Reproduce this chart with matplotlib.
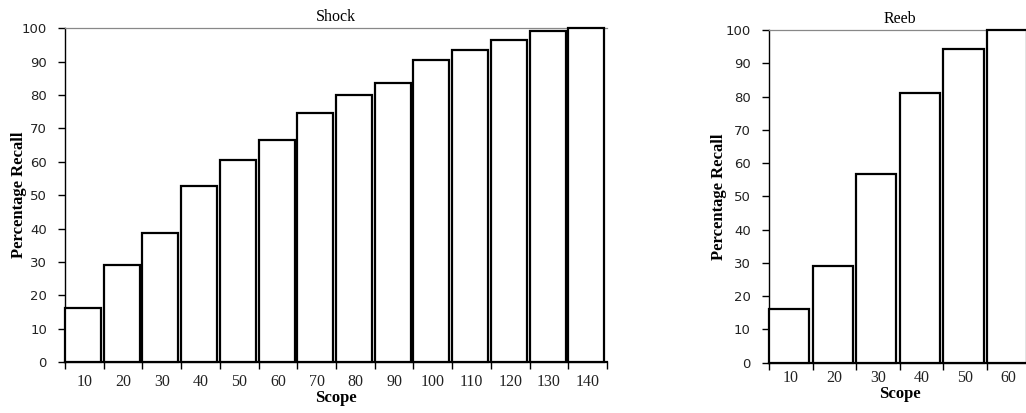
import matplotlib
matplotlib.use("Agg")
import matplotlib.pyplot as plt
import numpy as np

# data
shock_scope = [10, 20, 30, 40, 50, 60, 70, 80, 90, 100, 110, 120, 130, 140]
shock_recall = [16.2, 29.2, 38.7, 52.6, 60.5, 66.6, 74.6, 80.0, 83.6, 90.5, 93.6, 96.6, 99.1, 100.0]

reeb_scope = [10, 20, 30, 40, 50, 60]
reeb_recall = [16.1, 29.2, 56.8, 81.2, 94.2, 100.0]

fig = plt.figure(figsize=(10.26, 4.13), dpi=100)


def draw_panel(ax, scope, recall, title, xlab_pad, ylab_pad):
    n = len(scope)
    ax.bar(np.arange(n), recall, width=0.93, align="edge", color="white",
           edgecolor="black", linewidth=1.6, clip_on=False, zorder=3)
    ax.set_xlim(0, n)
    ax.set_ylim(0, 100)

    ax.spines["right"].set_visible(False)
    ax.spines["top"].set_color("#888888")
    ax.spines["top"].set_linewidth(0.9)
    ax.spines["left"].set_linewidth(1.0)
    ax.spines["bottom"].set_linewidth(1.6)

    # ticks at category boundaries, labels centered in each category
    ax.set_xticks(np.arange(n + 1))
    ax.set_xticklabels([])
    ax.set_xticks(np.arange(n) + 0.5, minor=True)
    ax.set_xticklabels([str(s) for s in scope], minor=True,
                       fontfamily="Liberation Serif", fontsize=11.5,
                       color="#222222")
    ax.tick_params(axis="x", which="major", length=5, width=1.0, direction="out")
    ax.tick_params(axis="x", which="minor", length=0, pad=xlab_pad)

    ax.set_yticks(np.arange(0, 101, 10))
    ax.set_yticklabels([str(v) for v in range(0, 101, 10)],
                       fontfamily="DejaVu Sans", fontsize=9.5, color="#222222")
    ax.tick_params(axis="y", length=5, width=1.0, direction="out", pad=8)

    ax.set_title(title, fontfamily="Liberation Serif", fontsize=11.5, pad=5)
    ax.set_xlabel("Scope", fontfamily="Liberation Serif", fontweight="bold",
                  fontsize=12, labelpad=0)
    ax.set_ylabel("Percentage Recall", fontfamily="Liberation Serif",
                  fontweight="bold", fontsize=12, labelpad=ylab_pad)


ax1 = fig.add_axes([0.0634, 0.1235, 0.5282, 0.808])
draw_panel(ax1, shock_scope, shock_recall, "Shock", 9, -4)

ax2 = fig.add_axes([0.7495, 0.1218, 0.2545, 0.8056])
draw_panel(ax2, reeb_scope, reeb_recall, "Reeb", 5, -1)

fig.savefig("out.png", dpi=100)
